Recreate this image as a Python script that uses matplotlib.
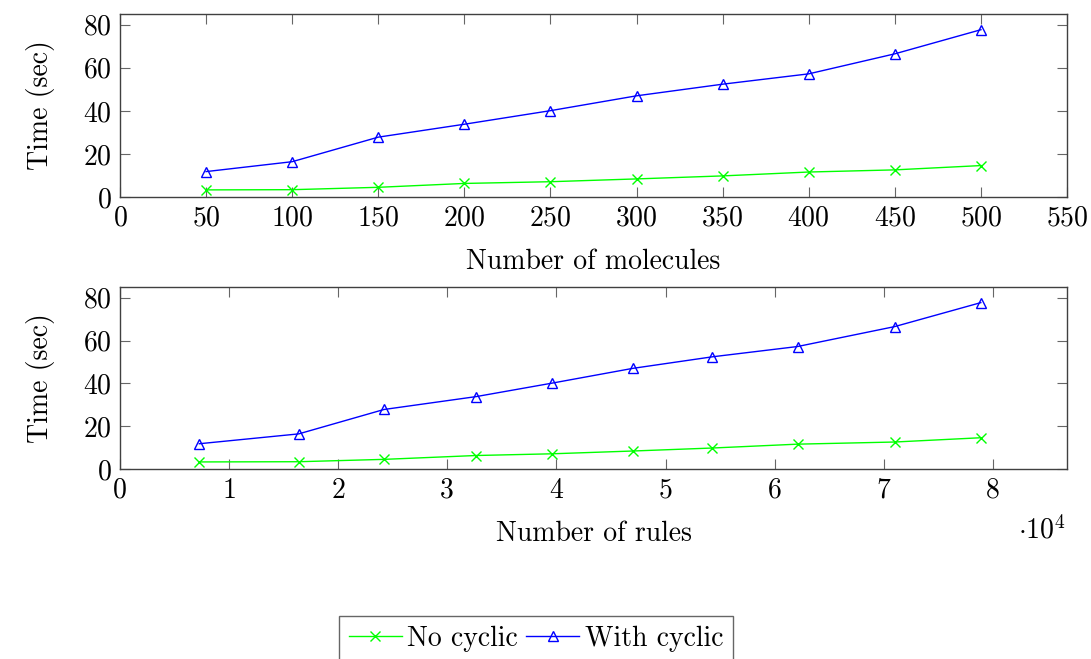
import matplotlib
matplotlib.use("Agg")
import matplotlib.pyplot as plt
from matplotlib.ticker import FuncFormatter, MultipleLocator

plt.rcParams['font.family'] = 'cmr10'
plt.rcParams['mathtext.fontset'] = 'cm'
plt.rcParams['axes.formatter.use_mathtext'] = True
plt.rcParams['font.size'] = 20

molecules = [50, 100, 150, 200, 250, 300, 350, 400, 450, 500]
rules = [7270, 16380, 24200, 32630, 39600, 47000, 54300, 62100, 71000, 78900]
no_cyclic = [3.3, 3.4, 4.5, 6.3, 7.1, 8.4, 9.8, 11.6, 12.6, 14.6]
with_cyclic = [11.8, 16.4, 27.8, 33.8, 40.1, 47.0, 52.4, 57.2, 66.5, 77.7]

W, H = 1091, 659
fig = plt.figure(figsize=(W / 100, H / 100), dpi=100)


def style_axes(ax):
    ax.tick_params(direction='in', length=7, width=0.8, color='0.4',
                   top=True, right=True, pad=6, labelsize=20)
    for s in ax.spines.values():
        s.set_linewidth(1.0)
        s.set_color('0.25')
    ax.set_ylim(0, 85)
    ax.yaxis.set_major_locator(MultipleLocator(20))
    ax.set_ylabel('Time (sec)', fontsize=20, labelpad=20)


def draw(ax, x):
    ax.plot(x, no_cyclic, color=(0, 1, 0), marker='x', markersize=6.5,
            markeredgewidth=1.0, linewidth=1.0, label='No cyclic')
    ax.plot(x, with_cyclic, color=(0, 0, 1), marker='^', markersize=7.5,
            markerfacecolor='none', markeredgewidth=1.0, linewidth=1.0,
            label='With cyclic')


ax1 = fig.add_axes([120 / W, 1 - 197 / H, 947 / W, 183 / H])
draw(ax1, molecules)
style_axes(ax1)
ax1.set_xlim(0, 550)
ax1.xaxis.set_major_locator(MultipleLocator(50))
ax1.set_xlabel('Number of molecules', fontsize=20, labelpad=12)

ax2 = fig.add_axes([120 / W, 1 - 469 / H, 947 / W, 182 / H])
draw(ax2, rules)
style_axes(ax2)
ax2.set_xlim(0, 86800)
ax2.xaxis.set_major_locator(MultipleLocator(10000))
ax2.xaxis.set_major_formatter(FuncFormatter(lambda v, p: '%d' % round(v / 1e4)))
ax2.set_xlabel('Number of rules', fontsize=20, labelpad=12)
fig.text(1018 / W, 1 - 530 / H, r'$\cdot 10^{4}$', fontsize=20, va='center', ha='left')

handles, labels = ax1.get_legend_handles_labels()
leg = fig.legend(handles, labels, loc='upper center', ncol=2,
                 bbox_to_anchor=(536 / W, 1 - 616 / H), fontsize=20,
                 frameon=True, fancybox=False, handlelength=1.9,
                 handletextpad=0.2, columnspacing=0.3, borderpad=0.35,
                 borderaxespad=0)
leg.get_frame().set_edgecolor('0.25')
leg.get_frame().set_linewidth(1.0)

fig.savefig('out.png', dpi=100)
